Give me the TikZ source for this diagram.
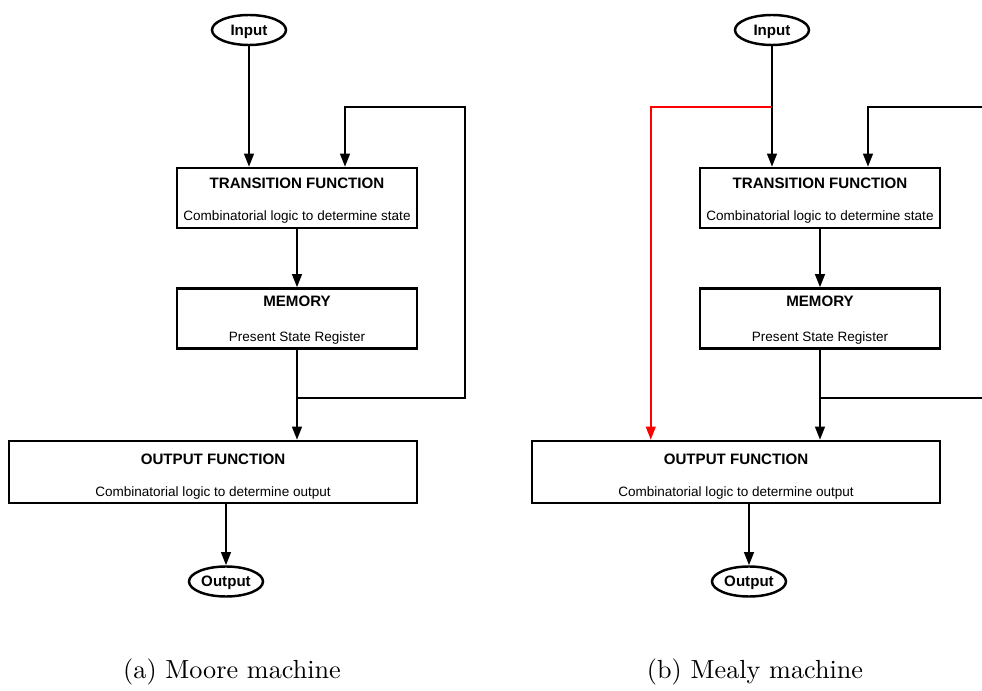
\documentclass[tikz,border=0pt]{standalone}
\usepackage{fontspec}
\newfontfamily\arialfont{Liberation Sans}
\usetikzlibrary{positioning,arrows.meta,calc,shapes.geometric}
\tikzset{
  fig/.style={x=0.2mm,y=-0.2mm},
  blk/.style={draw,line width=1.4pt,minimum width=48mm,minimum height=12mm,inner sep=0pt},
  wideblk/.style={blk,minimum width=81.6mm,minimum height=12.4mm},
  term/.style={draw,ellipse,line width=1.4pt,minimum width=14.8mm,minimum height=6mm,
               inner sep=0pt,text height=6.2pt,text depth=0pt,
               font=\arialfont\fontsize{8.6}{10}\selectfont\bfseries},
  ttl/.style={font=\arialfont\fontsize{8.6}{10}\selectfont\bfseries,inner sep=0pt,
              text height=6.2pt,text depth=0pt},
  sub/.style={font=\arialfont\fontsize{7.7}{9}\selectfont,inner sep=0pt,
              text height=5.6pt,text depth=0pt},
  ln/.style={-{Triangle[length=7.5pt,width=5.5pt]},line width=1.3pt},
  capt/.style={font=\normalsize,inner sep=0pt,scale=1.49},
}

\begin{document}
\begin{tikzpicture}[fig]
\clip (0,0) rectangle (982,691);

\foreach \d/\ox/\txt in {1/0/{(a) Moore machine},2/523/{(b) Mealy machine}}{
\begin{scope}[xshift=\ox*0.2mm]
% ------------------------------------------------ blocks
\node[term] (in\d)  at (249,30)    {Input};
\node[blk]  (tf\d)  at (297,198)   {};
\node[blk]  (mem\d) at (297,318.5) {};
\node[wideblk] (of\d) at (213,472) {};
\node[term] (out\d) at (226,581.5) {Output};

\node[ttl] (tft\d)  at ($(tf\d.north)+(0,16)$)  {TRANSITION FUNCTION};
\node[sub] (tfs\d)  at ($(tf\d.south)+(0,-14)$) {Combinatorial logic to determine state};
\node[ttl] (memt\d) at ($(mem\d.north)+(0,14)$) {MEMORY};
\node[sub] (mems\d) at ($(mem\d.south)+(0,-13)$) {Present State Register};
\node[ttl] (oft\d)  at ($(of\d.north)+(0,19)$)  {OUTPUT FUNCTION};
\node[sub] (ofs\d)  at ($(of\d.south)+(0,-13)$) {Combinatorial logic to determine output};

\node[capt] (cap\d) at (232,672) {\txt};

% ------------------------------------------------ connectors
\coordinate (j\d)  at ($(mem\d.south)+(0,48)$);
\coordinate (fb\d) at (465,107);
\draw[ln] (in\d.south) -- (in\d.south |- tf\d.north);
\draw[ln] (tf\d.south) -- (mem\d.north);
\draw[ln] (mem\d.south) -- (mem\d.south |- of\d.north);
\draw[ln] (j\d) -| (fb\d) -| ($(tf\d.north)+(48,0)$);
\draw[ln] (of\d.south -| out\d) -- (out\d.north);
\end{scope}
}

% red path of the Mealy machine: input straight to the output function
\coordinate (sp2) at ($(in2.south |- fb2)$);
\draw[ln,red,line width=1.2pt] (sp2) -| ($(of2.north west)+(120,0)$);

\end{tikzpicture}
\end{document}
